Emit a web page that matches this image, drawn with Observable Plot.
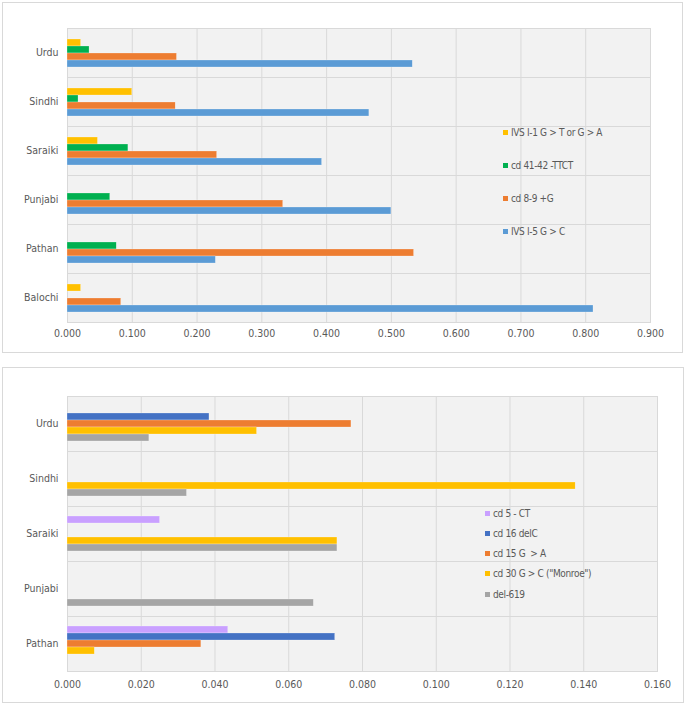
<!DOCTYPE html>
<html>
<head>
<meta charset="utf-8">
<script src="https://cdn.jsdelivr.net/npm/d3@7"></script>
<script src="https://cdn.jsdelivr.net/npm/@observablehq/plot@0.6"></script>
<style>
  html, body { margin: 0; padding: 0; background: #fff; }
  body { width: 685px; height: 705px; position: relative; overflow: hidden;
         font-family: "Liberation Sans Narrow", "DejaVu Sans Condensed", "Roboto", sans-serif; color: #595959; }
  .panel { position: absolute; border: 1px solid #d9d9d9; box-sizing: border-box; background: #fff; }
  .chart { position: absolute; left: 0; }
  .legend { position: absolute; font-size: 10px; letter-spacing: -0.35px; color: #595959; }
  .legend .item { position: absolute; white-space: pre; display: flex; align-items: center; height: 14px; }
  .legend .sw { width: 5px; height: 5px; margin-right: 3px; display: inline-block; }
</style>
</head>
<body>
<div class="panel" style="left:2px; top:2px; width:681px; height:351px;"></div>
<div class="panel" style="left:2px; top:367px; width:682px; height:336px;"></div>
<div id="top" class="chart" style="top:0px;"></div>
<div id="bottom" class="chart" style="top:367px;"></div>
<div id="legTop" class="legend"></div>
<div id="legBottom" class="legend"></div>
<script>
// ---------- Top chart data ----------
const topCategories = ["Urdu", "Sindhi", "Saraiki", "Punjabi", "Pathan", "Balochi"];
const topSeries = ["IVS I-1 G > T or G > A", "cd 41-42 -TTCT", "cd 8-9 +G", "IVS I-5 G > C"];
const topColors = ["#FFC000", "#00B050", "#ED7D31", "#5B9BD5"];
const topIVS11 = [0.021, 0.100, 0.047, null, null, 0.021];
const topCd4142 = [0.034, 0.017, 0.094, 0.066, 0.076, null];
const topCd89 = [0.169, 0.167, 0.231, 0.333, 0.535, 0.083];
const topIVS15 = [0.533, 0.466, 0.393, 0.500, 0.229, 0.812];
const topTicks = [0, 0.1, 0.2, 0.3, 0.4, 0.5, 0.6, 0.7, 0.8, 0.9];

// ---------- Bottom chart data ----------
const bottomCategories = ["Urdu", "Sindhi", "Saraiki", "Punjabi", "Pathan"];
const bottomSeries = ["cd 5 - CT", "cd 16 delC", "cd 15 G  > A", "cd 30 G > C (\"Monroe\")", "del-619"];
const bottomColors = ["#C9A0FF", "#4472C4", "#ED7D31", "#FFC000", "#A5A5A5"];
const botCd5 = [null, null, 0.0251, null, 0.0436];
const botCd16 = [0.0385, null, null, null, 0.0726];
const botCd15 = [0.0770, null, null, null, 0.0363];
const botCd30 = [0.0514, 0.1378, 0.0732, null, 0.0074];
const botDel619 = [0.0222, 0.0324, 0.0732, 0.0668, null];
const bottomTicks = [0, 0.02, 0.04, 0.06, 0.08, 0.10, 0.12, 0.14, 0.16];

function toRows(categories, series, columns) {
  const rows = [];
  categories.forEach((c, i) => {
    series.forEach((s, j) => {
      const v = columns[j][i];
      if (v != null) rows.push({category: c, series: s, value: v});
    });
  });
  return rows;
}

const topRows = toRows(topCategories, topSeries, [topIVS11, topCd4142, topCd89, topIVS15]);
const bottomRows = toRows(bottomCategories, bottomSeries, [botCd5, botCd16, botCd15, botCd30, botDel619]);

function makeChart({rows, categories, series, colors, ticks, height, marginTop, marginBottom, marginRight, tickPadding}) {
  return Plot.plot({
    width: 685,
    height,
    marginLeft: 67,
    marginRight,
    marginTop,
    marginBottom,
    style: {fontSize: "10.5px", fontFamily: "'Liberation Sans Narrow', 'DejaVu Sans Condensed', sans-serif", color: "#595959", background: "transparent"},
    x: {domain: [ticks[0], ticks[ticks.length - 1]], ticks, tickFormat: d3.format(".3f"), tickSize: 0, tickPadding, label: null, line: false},
    y: {domain: series, axis: null, paddingInner: 0, paddingOuter: 1.28},
    fy: {domain: categories, padding: 0, axis: "left", label: null, tickSize: 0, tickPadding: 9},
    color: {domain: series, range: colors},
    marks: [
      Plot.frame({fill: "#f2f2f2", stroke: null}),
      Plot.ruleX(ticks, {stroke: "#d9d9d9", strokeWidth: 1}),
      Plot.frame({stroke: "#d9d9d9", strokeWidth: 1}),
      Plot.barX(rows, {x: "value", y: "series", fy: "category", fill: "series", stroke: "#fff", strokeWidth: 0.4, strokeOpacity: 0.6})
    ]
  });
}

document.getElementById("top").append(makeChart({
  rows: topRows, categories: topCategories, series: topSeries, colors: topColors, ticks: topTicks,
  height: 353, marginTop: 27, marginBottom: 31, marginRight: 35, tickPadding: 7
}));

document.getElementById("bottom").append(makeChart({
  rows: bottomRows, categories: bottomCategories, series: bottomSeries, colors: bottomColors, ticks: bottomTicks,
  height: 336, marginTop: 27, marginBottom: 30, marginRight: 28, tickPadding: 9
}));

function legend(el, series, colors, left, top, spacing) {
  series.forEach((s, i) => {
    const item = document.createElement("div");
    item.className = "item";
    item.style.left = left + "px";
    item.style.top = (top + i * spacing - 7) + "px";
    const sw = document.createElement("span");
    sw.className = "sw";
    sw.style.background = colors[i];
    const t = document.createElement("span");
    t.textContent = s;
    item.append(sw, t);
    el.append(item);
  });
}
legend(document.getElementById("legTop"), topSeries, topColors, 503, 132, 33.3);
legend(document.getElementById("legBottom"), bottomSeries, bottomColors, 485, 513, 20.3);
</script>
</body>
</html>
